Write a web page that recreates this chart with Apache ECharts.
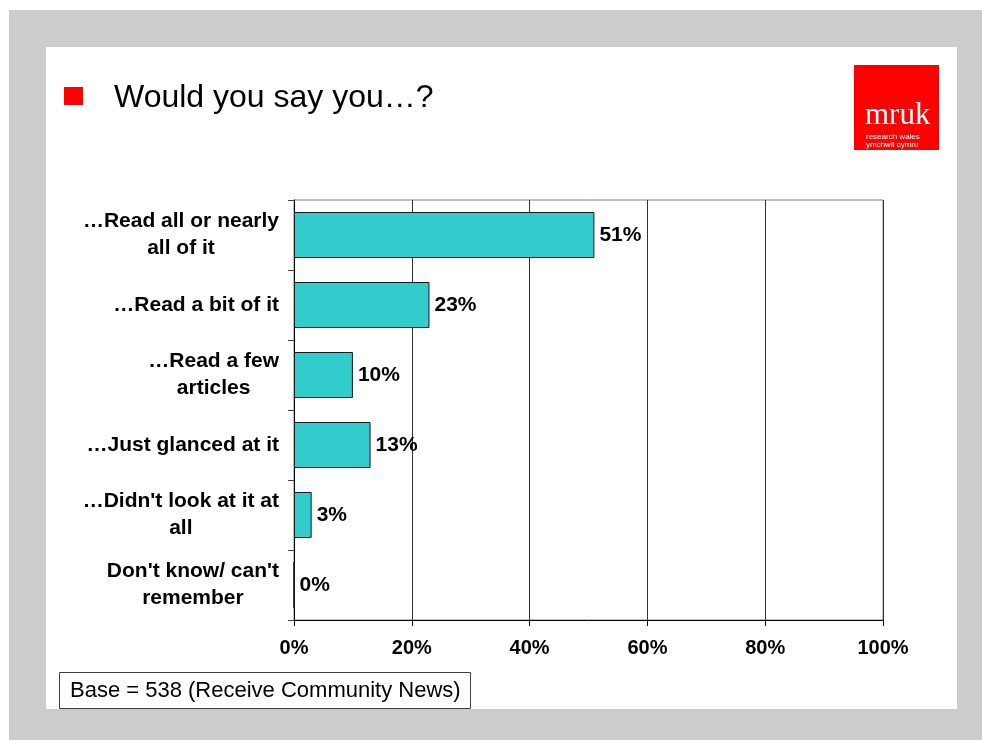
<!DOCTYPE html>
<html>
<head>
<meta charset="utf-8">
<script src="https://cdn.jsdelivr.net/npm/echarts@6/dist/echarts.min.js"></script>
<style>
  html, body { margin: 0; padding: 0; background: #ffffff; }
  #frame { position: absolute; left: 9px; top: 10px; width: 973px; height: 730px; background: #cccccc; }
  #slide { position: absolute; left: 46px; top: 47px; width: 911px; height: 662px; background: #ffffff; }
  #chart { position: absolute; left: 0; top: 0; width: 982px; height: 740px; }
</style>
</head>
<body>
<div id="frame"></div>
<div id="slide"></div>
<div id="chart"></div>
<script>
// Survey answers, top to bottom
const categories = [
  '…Read all or nearly\nall of it',
  '…Read a bit of it',
  '…Read a few\narticles',
  '…Just glanced at it',
  "…Didn't look at it at\nall",
  "Don't know/ can't\nremember"
];
// Share of respondents (%)
const values = [51, 23, 10, 13, 3, 0];
// Axis tick labels (%)
const tickValues = [0, 20, 40, 60, 80, 100];

const titleText = 'Would you say you…?';
const baseText = 'Base = 538 (Receive Community News)';

const chart = echarts.init(document.getElementById('chart'), null, { renderer: 'canvas' });

chart.setOption({
  backgroundColor: 'transparent',
  animation: false,
  textStyle: { fontFamily: '"Liberation Sans", Arial, sans-serif' },
  grid: {
    left: 294, top: 200, width: 589, height: 420,
    show: true, borderColor: '#808080', borderWidth: 1, containLabel: false
  },
  xAxis: {
    type: 'value',
    min: tickValues[0],
    max: tickValues[tickValues.length - 1],
    interval: tickValues[1] - tickValues[0],
    axisLine: { show: true, lineStyle: { color: '#000000', width: 1 } },
    axisTick: { show: true, inside: false, length: 6, lineStyle: { color: '#000000' } },
    splitLine: { show: true, lineStyle: { color: '#333333', width: 1 } },
    axisLabel: {
      formatter: '{value}%',
      color: '#000000', fontWeight: 'bold', fontSize: 20, margin: 18,
      fontFamily: '"Liberation Sans", Arial, sans-serif'
    }
  },
  yAxis: {
    type: 'category',
    inverse: true,
    data: categories,
    axisLine: { show: true, lineStyle: { color: '#000000', width: 1 } },
    axisTick: { show: true, inside: false, length: 6, lineStyle: { color: '#404040' } },
    splitLine: { show: false },
    axisLabel: {
      align: 'right',
      margin: 15,
      color: '#000000',
      formatter: function (v) {
        return v.split('\n').map(function (s) { return '{c|' + s + '}'; }).join('\n');
      },
      rich: {
        c: {
          align: 'center',
          fontWeight: 'bold', fontSize: 21, lineHeight: 27, color: '#000000',
          fontFamily: '"Liberation Sans", Arial, sans-serif'
        }
      }
    }
  },
  series: [{
    type: 'bar',
    data: values,
    barWidth: 46,
    itemStyle: { color: '#33cccc', borderColor: '#1a1a1a', borderWidth: 1 },
    label: {
      show: true,
      position: 'right',
      distance: 5,
      formatter: '{c}%',
      color: '#000000', fontWeight: 'bold', fontSize: 21,
      fontFamily: '"Liberation Sans", Arial, sans-serif'
    }
  }],
  graphic: [
    // red bullet and title
    { type: 'rect', shape: { x: 64, y: 87, width: 19, height: 18 }, style: { fill: '#ff0000' } },
    {
      type: 'text', x: 114, y: 98,
      style: {
        text: titleText, fill: '#000000', font: '32px "Liberation Sans", Arial, sans-serif',
        textVerticalAlign: 'middle', textAlign: 'left'
      }
    },
    // logo
    { type: 'rect', shape: { x: 854, y: 65, width: 85, height: 85 }, style: { fill: '#ff0000' } },
    {
      type: 'text', x: 865, y: 131,
      style: {
        text: 'mruk', fill: '#ffffff', font: '31px "Liberation Serif", "Times New Roman", serif',
        textVerticalAlign: 'bottom', textAlign: 'left'
      }
    },
    {
      type: 'text', x: 866, y: 137,
      style: {
        text: 'research wales', fill: '#ffffff', font: '8px "Liberation Sans", Arial, sans-serif',
        textVerticalAlign: 'middle', textAlign: 'left'
      }
    },
    {
      type: 'text', x: 866, y: 145,
      style: {
        text: 'ymchwil cymru', fill: '#ffffff', font: '8px "Liberation Sans", Arial, sans-serif',
        textVerticalAlign: 'middle', textAlign: 'left'
      }
    },
    // base note box
    {
      type: 'rect', shape: { x: 59.5, y: 672.5, width: 411, height: 36 },
      style: { fill: '#ffffff', stroke: '#404040', lineWidth: 1 }
    },
    {
      type: 'text', x: 70, y: 691,
      style: {
        text: baseText, fill: '#000000', font: '22px "Liberation Sans", Arial, sans-serif',
        textVerticalAlign: 'middle', textAlign: 'left'
      }
    }
  ]
});
</script>
</body>
</html>
